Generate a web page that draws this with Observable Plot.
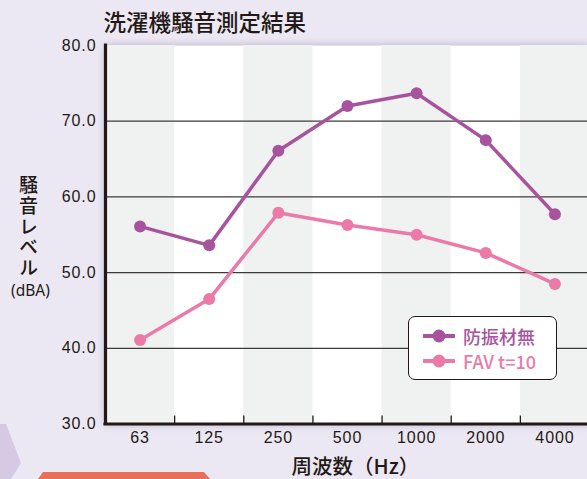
<!DOCTYPE html>
<html>
<head>
<meta charset="utf-8">
<script src="https://cdn.jsdelivr.net/npm/d3@7"></script>
<script src="https://cdn.jsdelivr.net/npm/@observablehq/plot@0.6"></script>
<style>
  html, body { margin: 0; padding: 0; background: #ece8f3; overflow: hidden; }
  #wrap { position: relative; width: 587px; height: 479px; overflow: hidden; background: #ece8f3; }
  #wrap > svg { position: absolute; left: 0; top: 0; }
  svg [aria-label^="x-axis"] text, svg [aria-label^="y-axis"] text { letter-spacing: 0.9px; }
  .deco1 { position: absolute; left: 0; top: 424px; width: 22px; height: 55px; background: #d5c9e4;
           clip-path: polygon(0 0, 6px 0, 21px 39px, 11px 55px, 0 55px); }
  .deco2 { position: absolute; left: 38px; top: 472px; width: 172px; height: 7px; background: #e8705a;
           clip-path: polygon(5px 0, 166px 0, 172px 7px, 0 7px); }
  #wrap .legend { position: absolute; left: 408px; top: 316px; width: 149px; height: 64px; box-sizing: border-box;
            border: 1.3px solid #231815; border-radius: 7px; background: #fff;
            font-family: "Noto Sans CJK JP", "Noto Sans", sans-serif; font-size: 18px; font-weight: 500; line-height: 22px; }
  #wrap .legend .row { position: absolute; left: 14px; height: 22px; display: flex; align-items: center; white-space: nowrap; }
  #wrap .legend svg { position: static; margin-right: 8px; flex: none; }
</style>
</head>
<body>
<div id="wrap"></div>
<script>
const freqLabels = ["63", "125", "250", "500", "1000", "2000", "4000"];
const seriesNames = ["防振材無", "FAV t=10"];
const noDamper = [56.1, 53.6, 66.1, 72.0, 73.7, 67.5, 57.7];
const favT10 = [41.1, 46.5, 57.9, 56.3, 55.0, 52.6, 48.5];
const seriesColors = ["#a8539e", "#ec7aa8"];
const yTicks = [30, 40, 50, 60, 70, 80];
const gridValues = [40, 50, 60, 70];
const titleText = "洗濯機騒音測定結果";
const yLabelText = "騒音レベル";
const yUnitText = "(dBA)";
const xLabelText = "周波数（Hz）";

const idx = freqLabels.map((_, i) => i);
const rows = [];
idx.forEach(i => {
  rows.push({series: seriesNames[0], pos: i + 0.5, value: noDamper[i]});
  rows.push({series: seriesNames[1], pos: i + 0.5, value: favT10[i]});
});
const boundaries = idx.slice(1);
const textColor = "#231815";
const cjk = "'Noto Sans CJK JP', 'Noto Sans', sans-serif";

const chart = Plot.plot({
  width: 587,
  height: 479,
  marginLeft: 105,
  marginRight: -2,
  marginTop: 45,
  marginBottom: 55.5,
  style: {background: "transparent", fontFamily: "'Liberation Sans', Arial, sans-serif", fontSize: "16px", color: textColor, overflow: "visible"},
  x: {domain: [0, 7], ticks: idx.map(i => i + 0.5), tickFormat: d => freqLabels[Math.floor(d)], tickSize: 0, tickPadding: 8, label: null},
  y: {domain: [30, 80], ticks: yTicks, tickFormat: d => d.toFixed(1), tickSize: 0, tickPadding: 9, label: null},
  color: {domain: seriesNames, range: seriesColors},
  marks: [
    Plot.frame({fill: "#ffffff", stroke: "none"}),
    Plot.rect(idx.filter(i => i % 2 === 0), {x1: d => d, x2: d => d + 1, y1: 30, y2: 80, fill: "#f0f2f1"}),
    Plot.ruleY(gridValues, {stroke: "#3e3a39", strokeWidth: 1.3}),
    Plot.ruleX(boundaries, {y1: 30, y2: 31.05, stroke: textColor, strokeWidth: 1.3}),
    Plot.ruleY([30], {stroke: textColor, strokeWidth: 3.2, strokeLinecap: "square"}),
    Plot.ruleX([0], {y1: 30, y2: 80, stroke: textColor, strokeWidth: 3.2, strokeLinecap: "square"}),
    Plot.line(rows, {x: "pos", y: "value", z: "series", stroke: "series", strokeWidth: 3.5}),
    Plot.dot(rows, {x: "pos", y: "value", fill: "series", r: 6}),
    Plot.text([titleText], {frameAnchor: "top-left", dx: -2, dy: -22, textAnchor: "start", lineAnchor: "middle", fontSize: 22.5, fontWeight: 500, fontFamily: cjk, fill: textColor}),
    Plot.text([yLabelText], {frameAnchor: "left", dx: -77, dy: -13.5, textAnchor: "middle", lineAnchor: "middle", fontSize: 19, fontWeight: 500, fontFamily: cjk, fill: textColor}),
    Plot.text([yUnitText], {frameAnchor: "left", dx: -75, dy: 56, textAnchor: "middle", lineAnchor: "middle", fontSize: 15.5, fontFamily: "'Noto Sans', sans-serif", fill: textColor}),
    Plot.text([xLabelText], {frameAnchor: "bottom-left", dx: 186, dy: 43, textAnchor: "start", lineAnchor: "middle", fontSize: 20.5, fontWeight: 500, fontFamily: cjk, fill: textColor})
  ]
});

// vertical writing for the y-axis title
chart.querySelectorAll("text").forEach(t => {
  if (t.textContent === yLabelText) {
    t.removeAttribute("dy");
    t.style.writingMode = "vertical-rl";
    t.style.textOrientation = "upright";
    t.style.letterSpacing = "1.7px";
  }
});

const frameRect = chart.querySelector('[aria-label="frame"]');
if (frameRect) frameRect.style.filter = "drop-shadow(0 0 4px rgba(110,90,140,0.45))";

const wrap = document.getElementById("wrap");
const d1 = document.createElement("div"); d1.className = "deco1"; wrap.appendChild(d1);
const d2 = document.createElement("div"); d2.className = "deco2"; wrap.appendChild(d2);
wrap.appendChild(chart);

// legend
const legend = document.createElement("div");
legend.className = "legend";
seriesNames.forEach((name, i) => {
  const row = document.createElement("div");
  row.className = "row";
  row.style.top = (8 + i * 25) + "px";
  row.innerHTML = `<svg width="32" height="14"><line x1="1" y1="7" x2="31" y2="7" stroke="${seriesColors[i]}" stroke-width="4" stroke-linecap="round"/><circle cx="16" cy="7" r="6.5" fill="${seriesColors[i]}"/></svg><span style="color:${seriesColors[i]}">${name}</span>`;
  legend.appendChild(row);
});
wrap.appendChild(legend);
</script>
</body>
</html>
